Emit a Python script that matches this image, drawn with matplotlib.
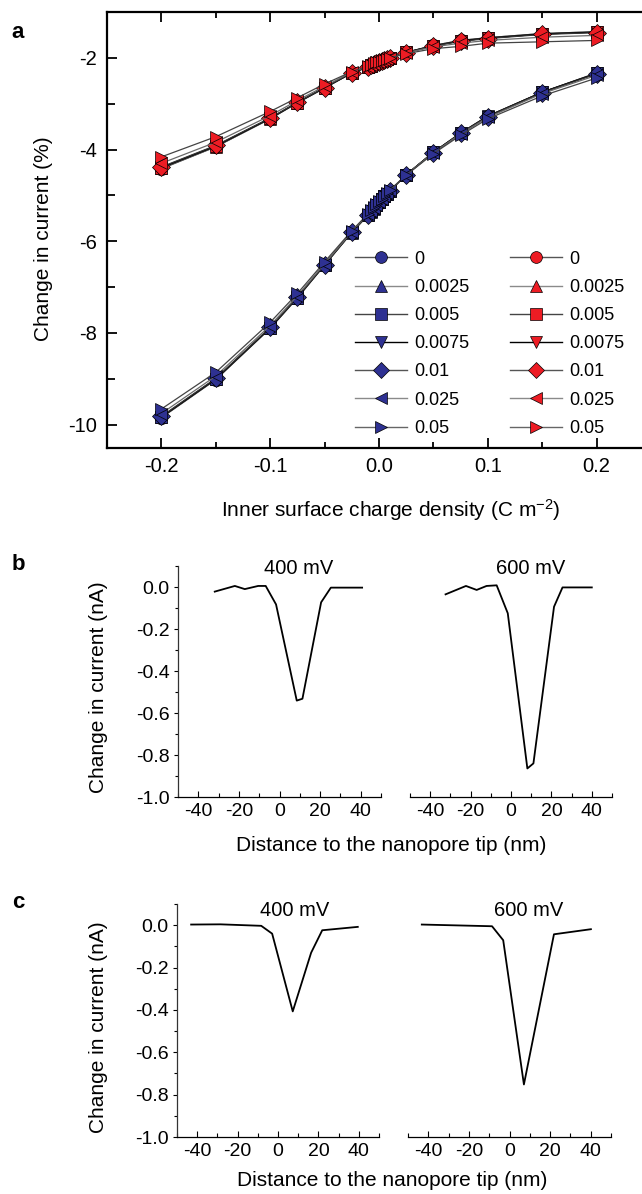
import matplotlib
matplotlib.use("Agg")
import matplotlib.pyplot as plt
from matplotlib.ticker import MultipleLocator, FixedLocator

plt.rcParams['font.family'] = ['Liberation Sans', 'DejaVu Sans']
plt.rcParams['axes.unicode_minus'] = False
plt.rcParams['mathtext.default'] = 'regular'

# ---------------- data: panel a ----------------
charge_density = [-0.2, -0.15, -0.1, -0.075, -0.05, -0.025, -0.01, -0.0075, -0.005, -0.0025, 0.0,
                  0.0025, 0.005, 0.0075, 0.01, 0.025, 0.05, 0.075, 0.1, 0.15, 0.2]
series_labels = ['0', '0.0025', '0.005', '0.0075', '0.01', '0.025', '0.05']

blue_0      = [-9.85, -9.02, -7.90, -7.24, -6.52, -5.81, -5.43, -5.36, -5.29, -5.22, -5.15, -5.08, -5.02, -4.96, -4.90, -4.55, -4.06, -3.64, -3.27, -2.75, -2.33]
blue_0_0025 = [-9.84, -9.01, -7.90, -7.23, -6.52, -5.81, -5.43, -5.36, -5.29, -5.22, -5.15, -5.08, -5.02, -4.96, -4.90, -4.55, -4.06, -3.64, -3.27, -2.75, -2.33]
blue_0_005  = [-9.84, -9.01, -7.89, -7.23, -6.51, -5.80, -5.42, -5.35, -5.28, -5.21, -5.14, -5.08, -5.02, -4.96, -4.90, -4.55, -4.06, -3.64, -3.27, -2.75, -2.34]
blue_0_0075 = [-9.83, -9.00, -7.89, -7.22, -6.51, -5.80, -5.42, -5.35, -5.28, -5.21, -5.14, -5.08, -5.02, -4.96, -4.90, -4.55, -4.06, -3.65, -3.28, -2.75, -2.34]
blue_0_01   = [-9.82, -8.99, -7.88, -7.22, -6.51, -5.80, -5.42, -5.35, -5.28, -5.21, -5.14, -5.08, -5.02, -4.96, -4.90, -4.55, -4.07, -3.65, -3.28, -2.76, -2.35]
blue_0_025  = [-9.76, -8.94, -7.84, -7.19, -6.49, -5.79, -5.41, -5.34, -5.27, -5.20, -5.14, -5.07, -5.01, -4.95, -4.89, -4.55, -4.07, -3.66, -3.30, -2.78, -2.38]
blue_0_05   = [-9.66, -8.86, -7.77, -7.14, -6.45, -5.77, -5.40, -5.33, -5.26, -5.19, -5.13, -5.07, -5.01, -4.95, -4.89, -4.56, -4.09, -3.69, -3.33, -2.83, -2.44]

red_0      = [-4.42, -3.94, -3.33, -2.98, -2.66, -2.33, -2.20, -2.17, -2.14, -2.11, -2.08, -2.06, -2.04, -2.02, -2.00, -1.88, -1.73, -1.62, -1.56, -1.47, -1.43]
red_0_0025 = [-4.41, -3.94, -3.33, -2.98, -2.66, -2.33, -2.20, -2.17, -2.14, -2.11, -2.08, -2.06, -2.04, -2.02, -2.00, -1.88, -1.73, -1.62, -1.56, -1.47, -1.43]
red_0_005  = [-4.40, -3.93, -3.32, -2.98, -2.65, -2.33, -2.20, -2.17, -2.14, -2.11, -2.08, -2.06, -2.04, -2.02, -2.00, -1.88, -1.74, -1.63, -1.57, -1.48, -1.44]
red_0_0075 = [-4.39, -3.92, -3.32, -2.97, -2.65, -2.33, -2.19, -2.16, -2.13, -2.11, -2.08, -2.06, -2.04, -2.02, -2.00, -1.88, -1.74, -1.63, -1.57, -1.48, -1.44]
red_0_01   = [-4.38, -3.91, -3.31, -2.97, -2.65, -2.32, -2.19, -2.16, -2.13, -2.11, -2.08, -2.06, -2.04, -2.02, -2.00, -1.89, -1.74, -1.64, -1.58, -1.49, -1.45]
red_0_025  = [-4.30, -3.84, -3.26, -2.93, -2.62, -2.31, -2.19, -2.16, -2.13, -2.10, -2.08, -2.06, -2.04, -2.02, -2.00, -1.89, -1.76, -1.68, -1.62, -1.55, -1.51]
red_0_05   = [-4.16, -3.72, -3.17, -2.87, -2.57, -2.30, -2.18, -2.15, -2.12, -2.10, -2.08, -2.06, -2.04, -2.02, -2.00, -1.91, -1.80, -1.75, -1.68, -1.65, -1.62]

blue_series = [blue_0, blue_0_0025, blue_0_005, blue_0_0075, blue_0_01, blue_0_025, blue_0_05]
red_series = [red_0, red_0_0025, red_0_005, red_0_0075, red_0_01, red_0_025, red_0_05]

# ---------------- data: panels b and c ----------------
b400_x = [-31.9, -22.0, -17.1, -10.5, -6.8, -1.7, 8.5, 11.3, 20.5, 25.3, 40.7]
b400_y = [-0.022, 0.005, -0.010, 0.005, 0.005, -0.083, -0.541, -0.532, -0.073, -0.003, -0.003]
b600_x = [-32.4, -22.3, -17.0, -12.1, -7.1, -1.6, 8.1, 11.1, 21.3, 25.5, 40.0]
b600_y = [-0.035, 0.005, -0.014, 0.005, 0.008, -0.125, -0.864, -0.840, -0.094, -0.002, -0.002]

c400_x = [-43.0, -28.5, -8.3, -2.9, 7.3, 16.4, 21.9, 39.5]
c400_y = [0.003, 0.004, -0.003, -0.040, -0.407, -0.130, -0.024, -0.008]
c600_x = [-43.2, -8.6, -3.1, 7.1, 21.9, 40.1]
c600_y = [0.003, -0.005, -0.071, -0.752, -0.043, -0.019]

distance_ticks = [-40, -20, 0, 20, 40]
current_ticks = [-1.0, -0.8, -0.6, -0.4, -0.2, 0.0]

BLUE = '#2E3192'
RED = '#ED1C24'
markers = ['o', '^', 's', 'v', 'D', '<', '>']
line_colors = ['#333333', '#6a6a6a', '#222222', '#000000', '#333333', '#6a6a6a', '#444444']
legend_line_colors = ['#555555', '#8a8a8a', '#444444', '#000000', '#555555', '#8a8a8a', '#666666']

W, H = 642, 1194
fig = plt.figure(figsize=(W / 100, H / 100), dpi=100)


def px_axes(l, t, r, b):
    return fig.add_axes([l / W, 1 - b / H, (r - l) / W, (b - t) / H])


# ---------------- panel a ----------------
ax = px_axes(107, 12, 651, 447.5)
handles_b, handles_r = [], []
for i, ys in enumerate(blue_series):
    ax.plot(charge_density, ys, color=line_colors[i], lw=0.9, marker=markers[i],
            ms=9, mfc=BLUE, mec='black', mew=0.5, zorder=2 + i * 0.1)
    h, = ax.plot([], [], color=legend_line_colors[i], lw=1.0, marker=markers[i],
                 ms=8.5, mfc=BLUE, mec='black', mew=0.5, label=series_labels[i])
    handles_b.append(h)
for i, ys in enumerate(red_series):
    ax.plot(charge_density, ys, color=line_colors[i], lw=0.9, marker=markers[i],
            ms=9, mfc=RED, mec='black', mew=0.5, zorder=3 + i * 0.1)
    h, = ax.plot([], [], color=legend_line_colors[i], lw=1.0, marker=markers[i],
                 ms=8.5, mfc=RED, mec='black', mew=0.5, label=series_labels[i])
    handles_r.append(h)

ax.set_xlim(-0.25, 0.25)
ax.set_ylim(-10.5, -1)
ax.xaxis.set_major_locator(MultipleLocator(0.1))
ax.xaxis.set_minor_locator(MultipleLocator(0.05))
ax.yaxis.set_major_locator(MultipleLocator(2))
ax.yaxis.set_minor_locator(MultipleLocator(1))
ax.xaxis.set_major_formatter(plt.FuncFormatter(lambda v, p: f"{v:.1f}"))
ax.yaxis.set_major_formatter(plt.FuncFormatter(lambda v, p: f"{v:.0f}"))
ax.tick_params(which='both', direction='in', top=True, right=False, labelsize=14.5, width=1.3)
ax.tick_params(which='major', length=7, pad=7)
ax.tick_params(which='minor', length=4)
ax.tick_params(axis='y', which='minor', length=6)
for s in ax.spines.values():
    s.set_linewidth(1.6)
ax.spines['right'].set_visible(False)
ax.set_xlabel('Inner surface charge density (C m$^{-2}$)', fontsize=15)
ax.xaxis.set_label_coords(0.522, -0.113)
ax.set_ylabel('Change in current (%)', fontsize=15)
ax.yaxis.set_label_coords(-0.10, 0.48)

leg = ax.legend(handles_b + handles_r, series_labels + series_labels, ncol=2, frameon=False,
                loc='upper left', bbox_to_anchor=(0.456, 0.452), borderaxespad=0, borderpad=0,
                handlelength=2.9, handletextpad=0.4, columnspacing=2.2, labelspacing=0.62,
                fontsize=13)

fig.text(18 / W, 1 - 33 / H, 'a', fontsize=16, fontweight='bold', ha='center', va='center')


# ---------------- panels b and c ----------------
def style_trace_axes(axx, show_y):
    axx.set_xlim(-50, 50)
    axx.set_ylim(-1.0, 0.1)
    axx.xaxis.set_major_locator(FixedLocator(distance_ticks))
    axx.xaxis.set_minor_locator(MultipleLocator(10))
    axx.yaxis.set_major_locator(FixedLocator(current_ticks))
    axx.yaxis.set_minor_locator(MultipleLocator(0.1))
    axx.set_xticklabels([f"{v:d}" for v in distance_ticks])
    axx.spines['top'].set_visible(False)
    axx.spines['right'].set_visible(False)
    axx.spines['bottom'].set_linewidth(0.9)
    axx.spines['left'].set_linewidth(0.9)
    axx.spines['left'].set_color('#333333')
    axx.tick_params(axis='x', which='both', direction='in', labelsize=14, width=0.8, pad=4)
    axx.tick_params(axis='x', which='major', length=4)
    axx.tick_params(axis='x', which='minor', length=3)
    if show_y:
        axx.set_yticklabels([f"{v:.1f}" for v in current_ticks])
        axx.tick_params(axis='y', which='both', direction='out', labelsize=14, width=0.8, pad=3)
        axx.tick_params(axis='y', which='major', length=3)
        axx.tick_params(axis='y', which='minor', length=2)
    else:
        axx.spines['left'].set_visible(False)
        axx.tick_params(axis='y', which='both', left=False, labelleft=False)


def trace_panel(top, bottom, xl, xr, data_l, data_r, title_y, title_x, letter, letter_y):
    axl = px_axes(xl[0], top, xl[1], bottom)
    axr = px_axes(xr[0], top, xr[1], bottom)
    axl.plot(data_l[0], data_l[1], color='black', lw=1.3)
    axr.plot(data_r[0], data_r[1], color='black', lw=1.3)
    style_trace_axes(axl, True)
    style_trace_axes(axr, False)
    axl.text(title_x[0], title_y, '400 mV', fontsize=14.5, ha='center', va='center')
    axr.text(title_x[1], title_y, '600 mV', fontsize=14.5, ha='center', va='center')
    axl.set_ylabel('Change in current (nA)', fontsize=15)
    axl.set_xlabel('Distance to the nanopore tip (nm)', fontsize=15)
    fig.text(18 / W, 1 - letter_y / H, letter, fontsize=16,
             fontweight='bold', ha='center', va='center')
    return axl, axr


bl, br = trace_panel(566, 797, (178, 381), (410, 612), (b400_x, b400_y), (b600_x, b600_y),
                     0.089, (9.6, 9.6), 'b', 565)
bl.yaxis.set_label_coords(-0.345, 0.477)
bl.xaxis.set_label_coords(1.049, -0.17)

cl, cr = trace_panel(904, 1137, (177, 379), (408, 611), (c400_x, c400_y), (c600_x, c600_y),
                     0.071, (8.0, 9.5), 'c', 902)
cl.yaxis.set_label_coords(-0.342, 0.47)
cl.xaxis.set_label_coords(1.064, -0.145)

fig.savefig('out.png', dpi=100)
